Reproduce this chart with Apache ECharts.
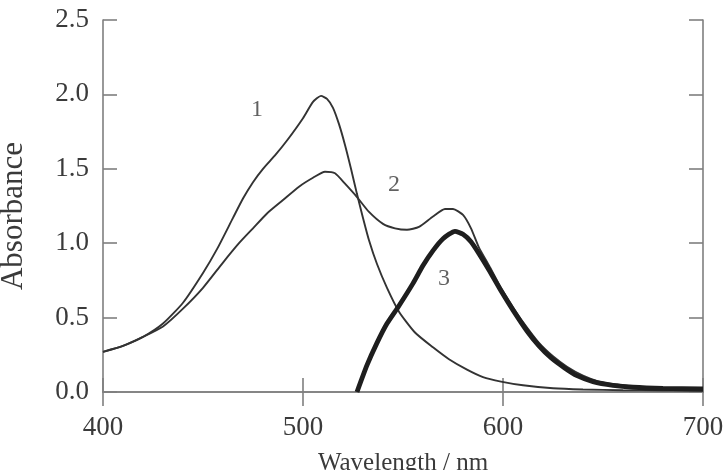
<!DOCTYPE html>
<html><head><meta charset="utf-8">
<script src="https://cdn.jsdelivr.net/npm/echarts@6/dist/echarts.min.js"></script>
<style>html,body{margin:0;padding:0;background:#fff}#c{width:727px;height:470px}</style>
</head><body><div id="c"></div>
<script>
const wl1 = [400,410,420,430,440,450,457,465,470,475,480,486,492,500,505,509,512,515,518,521,524,527,530,533,537,542,548,556,565,573,582,590,599,610,625,640,660,680,700];
const abs1 = [0.27,0.31,0.37,0.46,0.60,0.80,0.96,1.17,1.30,1.41,1.50,1.59,1.69,1.84,1.95,1.99,1.97,1.91,1.80,1.66,1.50,1.33,1.17,1.02,0.86,0.70,0.54,0.40,0.30,0.22,0.15,0.10,0.07,0.045,0.025,0.017,0.012,0.010,0.008];
const wl2 = [400,410,420,430,440,450,460,468,475,482,490,498,505,511,516,521,527,533,540,546,552,558,565,571,575,580,584,588,593,599,605,610,618,625,632,640,648,657,665,680,700];
const abs2 = [0.27,0.31,0.37,0.44,0.56,0.70,0.87,1.00,1.10,1.20,1.29,1.38,1.44,1.48,1.47,1.40,1.31,1.21,1.13,1.10,1.09,1.11,1.18,1.23,1.23,1.19,1.10,0.97,0.85,0.70,0.57,0.47,0.33,0.24,0.17,0.11,0.07,0.05,0.037,0.028,0.022];
const wl3 = [527,532,537,542,548,555,560,565,570,576,580,584,588,593,599,605,612,618,624,631,637,645,655,665,680,700];
const abs3 = [0.0,0.18,0.33,0.46,0.58,0.73,0.85,0.95,1.03,1.08,1.06,1.01,0.93,0.82,0.68,0.55,0.41,0.31,0.23,0.16,0.11,0.07,0.045,0.032,0.024,0.02];
const curveLabels = ['1','2','3'];
const labelWl = [477,545.5,570.5];
const labelAbs = [1.9,1.39,0.76];
const xTicks = [400,500,600,700];
const yTicks = ['0.0','0.5','1.0','1.5','2.0','2.5'];

const zip = (a,b)=>a.map((v,i)=>[v,b[i]]);
const axisCol = '#7f7f7f';
const txtCol = '#3a3a3a';
const serif = '"Liberation Serif","DejaVu Serif",serif';
const axisCommon = {
  axisLine:{show:true,lineStyle:{color:axisCol,width:1.6}},
  axisTick:{show:true,inside:true,length:14,lineStyle:{color:axisCol,width:1.6}},
  splitLine:{show:false}
};
const chart = echarts.init(document.getElementById('c'));
chart.setOption({
  backgroundColor:'#fff',
  animation:false,
  grid:{left:103,right:24,top:20,bottom:78,containLabel:false,outerBoundsMode:'none'},
  xAxis:[
    Object.assign({type:'value',min:xTicks[0],max:xTicks[xTicks.length-1],interval:100,position:'bottom',
      name:'Wavelength / nm',nameLocation:'middle',nameGap:59,
      nameTextStyle:{fontFamily:serif,fontSize:25,color:txtCol},
      axisLabel:{fontFamily:serif,fontSize:27,color:txtCol,margin:22}},axisCommon),
    Object.assign({type:'value',min:xTicks[0],max:xTicks[xTicks.length-1],interval:100,position:'top',
      axisLabel:{show:false}},axisCommon)
  ],
  yAxis:[
    Object.assign({type:'value',min:0,max:2.5,interval:0.5,position:'left',
      name:'Absorbance',nameLocation:'middle',nameGap:74,
      nameTextStyle:{fontFamily:serif,fontSize:31,color:txtCol,padding:[0,20,0,0]},
      axisLabel:{fontFamily:serif,fontSize:27,color:txtCol,margin:14,formatter:(v)=>yTicks[Math.round(v/0.5)]}},axisCommon),
    Object.assign({type:'value',min:0,max:2.5,interval:0.5,position:'right',
      axisLabel:{show:false}},axisCommon)
  ],
  series:[
    {type:'line',data:zip(wl1,abs1),showSymbol:false,smooth:0.2,lineStyle:{color:'#333',width:1.9}},
    {type:'line',data:zip(wl2,abs2),showSymbol:false,smooth:0.2,lineStyle:{color:'#333',width:1.9}},
    {type:'line',data:zip(wl3,abs3),showSymbol:false,smooth:0.2,lineStyle:{color:'#1e1e1e',width:4.8}},
    {type:'scatter',symbolSize:0,data:labelWl.map((x,i)=>({value:[x,labelAbs[i]],name:curveLabels[i]})),
      label:{show:true,position:'inside',formatter:(p)=>p.name,fontFamily:serif,fontSize:24,color:txtCol}}
  ]
});
</script></body></html>
